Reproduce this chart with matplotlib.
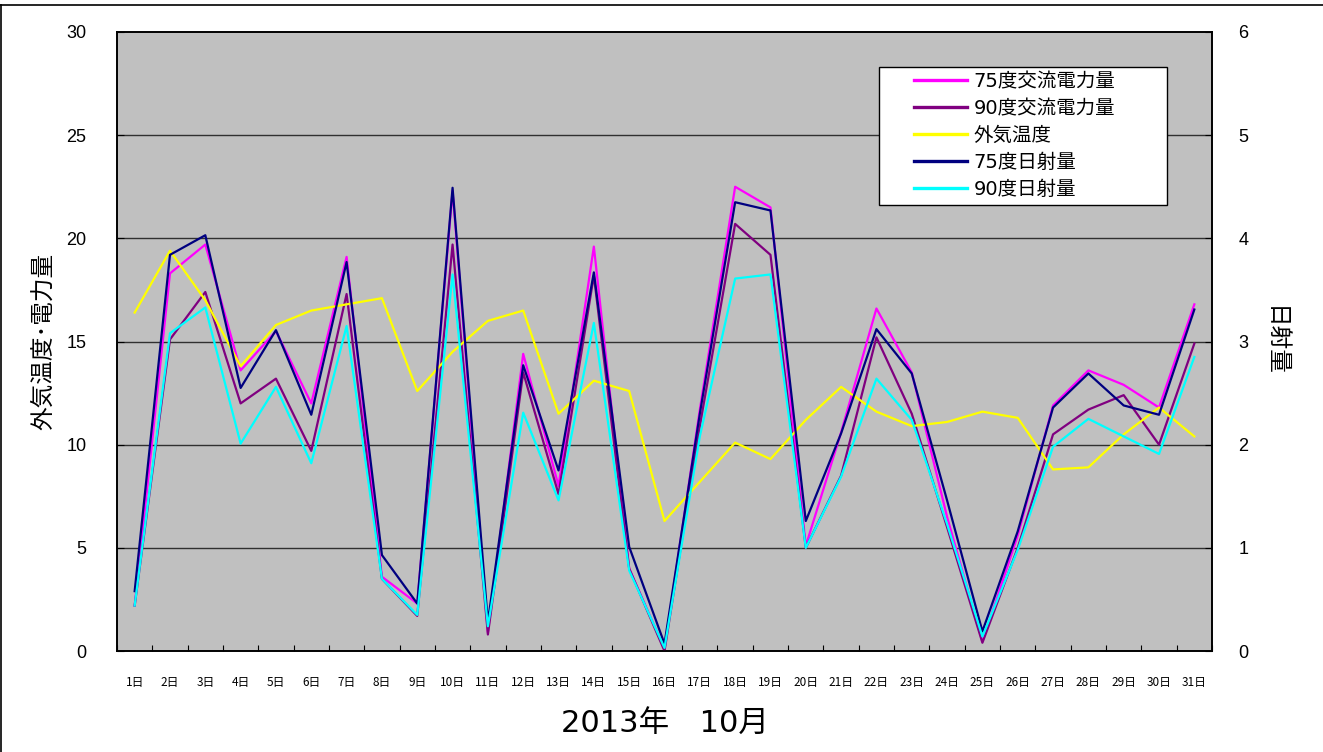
import matplotlib
matplotlib.use("Agg")
import matplotlib.pyplot as plt
from matplotlib.lines import Line2D
from matplotlib.patches import Rectangle
import numpy as np

plt.rcParams['font.family'] = ['Noto Sans CJK JP', 'DejaVu Sans']

days = [f"{d}日" for d in range(1, 32)]

power75 = [2.2, 18.3, 19.7, 13.6, 15.5, 12.0, 19.1, 3.6, 2.3, 22.3, 0.9, 14.4, 8.0, 19.6, 4.0,
           0.1, 11.7, 22.5, 21.5, 5.1, 10.6, 16.6, 13.5, 6.5, 0.45, 5.6, 11.9, 13.6, 12.9, 11.8, 16.8]
power90 = [2.2, 15.1, 17.4, 12.0, 13.2, 9.7, 17.3, 3.5, 1.7, 19.7, 0.8, 13.5, 7.6, 18.2, 4.0,
           0.0, 10.9, 20.7, 19.2, 5.0, 8.5, 15.2, 11.5, 6.0, 0.4, 5.0, 10.5, 11.7, 12.4, 10.0, 14.9]
temperature = [16.4, 19.4, 17.0, 13.8, 15.8, 16.5, 16.8, 17.1, 12.6, 14.5, 16.0, 16.5, 11.5, 13.1, 12.6,
               6.3, 8.2, 10.1, 9.3, 11.2, 12.8, 11.6, 10.9, 11.1, 11.6, 11.3, 8.8, 8.9, 10.5, 11.8, 10.4]
rad75 = [0.58, 3.84, 4.03, 2.55, 3.11, 2.29, 3.77, 0.93, 0.46, 4.49, 0.28, 2.77, 1.75, 3.67, 1.01,
         0.07, 2.30, 4.35, 4.27, 1.26, 2.11, 3.12, 2.69, 1.46, 0.19, 1.16, 2.36, 2.69, 2.38, 2.29, 3.31]
rad90 = [0.44, 3.08, 3.33, 2.01, 2.56, 1.82, 3.15, 0.70, 0.35, 3.65, 0.24, 2.31, 1.46, 3.18, 0.78,
         0.03, 2.08, 3.61, 3.65, 1.00, 1.69, 2.64, 2.24, 1.23, 0.14, 0.98, 1.98, 2.25, 2.08, 1.91, 2.85]

series_labels = ["75度交流電力量", "90度交流電力量", "外気温度", "75度日射量", "90度日射量"]
colors = ["#FF00FF", "#800080", "#FFFF00", "#000080", "#00FFFF"]

W, H = 1323, 752
fig = plt.figure(figsize=(W / 100, H / 100), dpi=100)

L, R, T, B = 117, 1212, 32, 651
ax = fig.add_axes([L / W, 1 - B / H, (R - L) / W, (B - T) / H])
ax.set_facecolor("#C0C0C0")
ax2 = ax.twinx()

x = np.arange(len(days)) + 0.5
lw = 1.6
ax.plot(x, power75, color=colors[0], lw=lw, zorder=3)
ax.plot(x, power90, color=colors[1], lw=lw, zorder=3)
ax.plot(x, temperature, color=colors[2], lw=lw, zorder=3)
ax2.plot(x, rad75, color=colors[3], lw=lw, zorder=3)
ax2.plot(x, rad90, color=colors[4], lw=lw, zorder=3)

ax.set_xlim(0, len(days))
ax.set_ylim(0, 30)
ax2.set_ylim(0, 6)
ax.set_yticks(np.arange(0, 31, 5))
ax2.set_yticks(np.arange(0, 7, 1))

for yv in range(5, 30, 5):
    ax.axhline(yv, color="#303030", lw=1.0, zorder=1)

ax.set_xticks(x)
ax.set_xticklabels(days, fontsize=8.5)
ax.set_xticks(np.arange(0, len(days) + 1), minor=True)
ax.tick_params(axis="x", which="major", length=0, pad=18)
ax.tick_params(axis="x", which="minor", direction="in", length=4, width=0.8)
ax.tick_params(axis="y", direction="in", length=5, width=0.8, pad=22, labelsize=13)
ax2.tick_params(axis="y", direction="in", length=5, width=0.8, pad=19, labelsize=13)
for lab in ax.get_yticklabels() + ax2.get_yticklabels():
    lab.set_family(['Liberation Sans', 'DejaVu Sans'])

for a in (ax, ax2):
    for s in a.spines.values():
        s.set_color("black")
        s.set_linewidth(1.2)

ax.set_ylabel("外気温度･電力量", fontsize=17, labelpad=8)
ax2.set_ylabel("日射量", fontsize=17, rotation=270, labelpad=27)
ax.set_xlabel("2013年　10月", fontsize=22, labelpad=14,
              family=['DejaVu Sans', 'Noto Sans CJK JP'])

# legend frame (drawn as a box) and legend entries
ax2.add_artist(Rectangle((879 / W, 1 - 205 / H), (1167 - 879) / W, (205 - 67) / H,
                         transform=fig.transFigure, facecolor="white", edgecolor="black",
                         lw=1.0, zorder=9))
handles = [Line2D([], [], color=c, lw=2.4) for c in colors]
leg = ax2.legend(handles, series_labels, loc="upper left",
                 bbox_to_anchor=(914 / W, 1 - 72 / H), bbox_transform=fig.transFigure,
                 borderaxespad=0, borderpad=0, fontsize=14, handlelength=2.75,
                 handletextpad=0.3, labelspacing=0.41, frameon=False,
                 prop={'family': ['DejaVu Sans', 'Noto Sans CJK JP'], 'size': 14})
leg.set_zorder(10)

# figure border (top and left edges)
fig.add_artist(Line2D([0, 1], [1 - 5 / H, 1 - 5 / H], transform=fig.transFigure, color="black", lw=1.2))
fig.add_artist(Line2D([0.5 / W, 0.5 / W], [0, 1 - 5 / H], transform=fig.transFigure, color="black", lw=1.2))

fig.savefig("out.png", dpi=100, facecolor="white")
